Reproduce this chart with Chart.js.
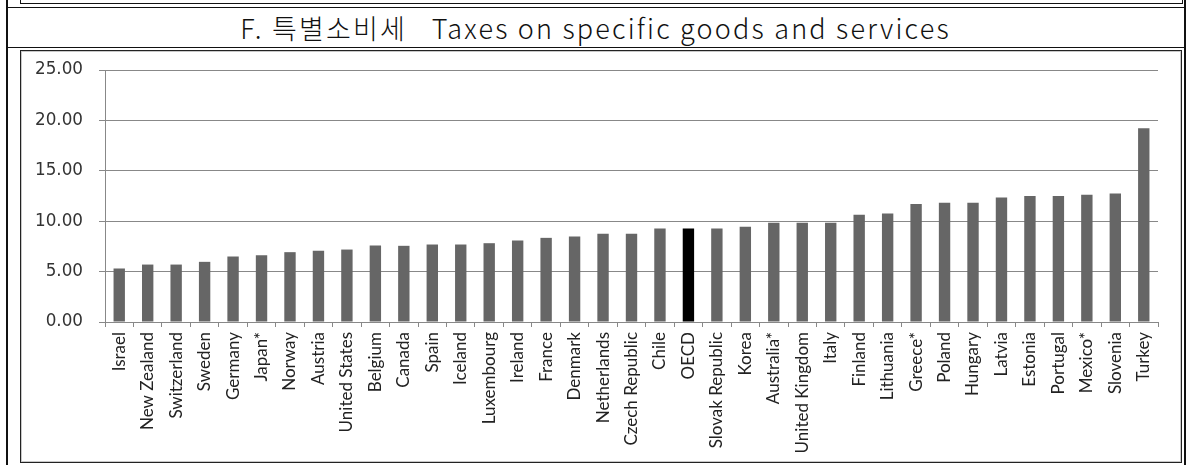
<!DOCTYPE html>
<html>
<head>
<meta charset="utf-8">
<script src="https://cdn.jsdelivr.net/npm/chart.js@4.4.1/dist/chart.umd.min.js"></script>
<style>
  html, body { margin: 0; padding: 0; background: #fff; }
  body { width: 1197px; height: 465px; position: relative; overflow: hidden; }
  .line { position: absolute; background: #111; }
  #title {
    position: absolute; left: 6px; width: 1179px; top: 8px; height: 39px;
    text-align: center; line-height: 39px; white-space: pre;
    font-family: "Noto Sans CJK KR", sans-serif; font-size: 27px; font-weight: 300;
    letter-spacing: 2.2px; color: #111;
  }
  #frame {
    position: absolute; left: 20px; top: 50px; width: 1160px; height: 411px;
    border: 1px solid #222; box-shadow: inset 1px 1px 0 #c8c8c8, inset -1px -1px 0 #c8c8c8;
  }
  #wrap { position: absolute; left: 21px; top: 44px; width: 1160px; height: 418px; }
  #wrap canvas { display: block; }
</style>
</head>
<body>
<!-- panel frame -->
<div class="line" style="left:6px;top:0;width:1.5px;height:465px"></div>
<div class="line" style="left:1184px;top:0;width:1.5px;height:465px"></div>
<div class="line" style="left:20px;top:0;width:1px;height:4px"></div>
<div class="line" style="left:1182px;top:0;width:1px;height:4px"></div>
<div class="line" style="left:20px;top:3px;width:1163px;height:1px"></div>
<div class="line" style="left:6px;top:7px;width:1180px;height:1px"></div>
<div class="line" style="left:6px;top:47px;width:1180px;height:1px"></div>
<div id="title">F. 특별소비세   Taxes on specific goods and services</div>
<div id="frame"></div>
<div id="wrap"><canvas id="c" width="1160" height="418"></canvas></div>
<script>
const countries = ["Israel", "New Zealand", "Switzerland", "Sweden", "Germany", "Japan*", "Norway",
  "Austria", "United States", "Belgium", "Canada", "Spain", "Iceland", "Luxembourg", "Ireland",
  "France", "Denmark", "Netherlands", "Czech Republic", "Chile", "OECD", "Slovak Republic", "Korea",
  "Australia*", "United Kingdom", "Italy", "Finland", "Lithuania", "Greece*", "Poland", "Hungary",
  "Latvia", "Estonia", "Portugal", "Mexico*", "Slovenia", "Turkey"];

// Taxes on specific goods and services (% of total taxation)
const taxShare = [5.31, 5.70, 5.70, 5.97, 6.50, 6.63, 6.93, 7.06, 7.19, 7.59, 7.56, 7.69, 7.69, 7.82,
  8.09, 8.35, 8.49, 8.75, 8.75, 9.28, 9.28, 9.28, 9.45, 9.84, 9.84, 9.84, 10.64, 10.77, 11.70,
  11.83, 11.83, 12.36, 12.50, 12.50, 12.62, 12.76, 19.22];

const yTicks = [0, 5, 10, 15, 20, 25];

const highlight = "OECD";
const barColors = countries.map(c => c === highlight ? "#000000" : "#666666");

new Chart(document.getElementById("c"), {
  type: "bar",
  data: {
    labels: countries,
    datasets: [{
      data: taxShare,
      backgroundColor: barColors,
      borderWidth: 0,
      barPercentage: 0.4,
      categoryPercentage: 1.0
    }]
  },
  options: {
    responsive: false,
    animation: false,
    events: [],
    layout: { autoPadding: false, padding: { top: 12, right: 23, left: 0, bottom: 0 } },
    plugins: { legend: { display: false }, tooltip: { enabled: false }, title: { display: false } },
    scales: {
      x: {
        offset: true,
        grid: { display: true, drawOnChartArea: false, offset: true, color: "#888", tickLength: 5, lineWidth: 1 },
        border: { display: true, color: "#888", width: 1 },
        ticks: {
          autoSkip: false, minRotation: 90, maxRotation: 90, padding: 5,
          color: "#222", font: { family: "Lato, 'Liberation Sans', sans-serif", size: 17 }
        },
        afterFit: s => { s.height = 140; }
      },
      y: {
        min: yTicks[0], max: yTicks[yTicks.length - 1],
        afterBuildTicks: s => { s.ticks = yTicks.map(v => ({ value: v })); },
        grid: { color: "#888", lineWidth: 1, tickLength: 6, drawTicks: true },
        border: { display: true, color: "#888", width: 1 },
        ticks: {
          padding: 16, color: "#333",
          font: { family: "'DejaVu Sans', sans-serif", size: 16.8 },
          callback: v => Number(v).toFixed(2)
        },
        afterFit: s => { s.width = 84; }
      }
    }
  }
});
</script>
</body>
</html>
